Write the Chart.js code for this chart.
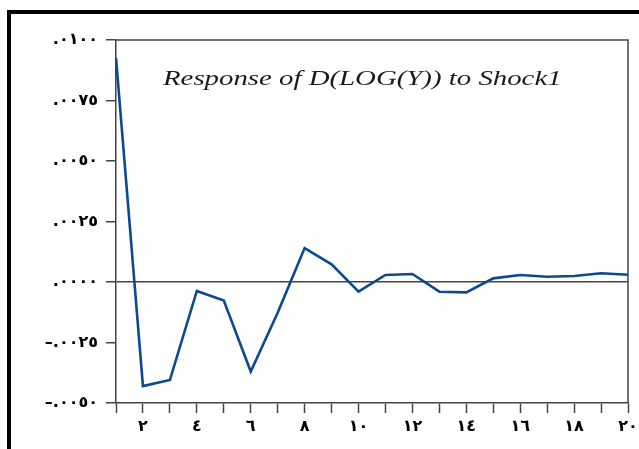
<!DOCTYPE html>
<html>
<head>
<meta charset="utf-8">
<script src="https://cdn.jsdelivr.net/npm/chart.js@4/dist/chart.umd.min.js"></script>
<style>
  html, body { margin: 0; padding: 0; background: #fff; }
  #wrap { position: relative; width: 639px; height: 449px; }
  #frame { position: absolute; left: 7px; top: 10px; right: 0; bottom: 0;
           border-left: 4px solid #000; border-top: 4px solid #000; pointer-events: none; }
  canvas { position: absolute; left: 0; top: 0; }
</style>
</head>
<body>
<div id="wrap">
  <canvas id="c" width="639" height="449"></canvas>
  <div id="frame"></div>
</div>
<script>
// ---- data ----
const periods = [1,2,3,4,5,6,7,8,9,10,11,12,13,14,15,16,17,18,19,20];
const response = [0.00926, -0.0043, -0.00405, -0.00037, -0.00077, -0.0037, -0.00127, 0.0014,
                  0.00073, -0.0004, 0.00029, 0.00033, -0.0004, -0.00043, 0.00015, 0.00029,
                  0.00022, 0.00025, 0.00036, 0.0003];
const titleText = 'Response of D(LOG(Y)) to Shock1';
const arabicDigits = ['٠','١','٢','٣','٤','٥','٦','٧','٨','٩'];

function toArabic(str) {
  return str.replace(/[0-9]/g, d => arabicDigits[+d]);
}
function fmtY(v) {
  let s = Math.abs(v).toFixed(4).replace(/^0/, '');
  if (v < -1e-9) s = '–' + s;
  return toArabic(s);
}

const axisColor = '#444';
const tickFont = { family: 'DejaVu Sans', size: 16, weight: 'bold' };

const framePlugin = {
  id: 'framePlugin',
  afterDraw(chart) {
    const { ctx, chartArea: a } = chart;
    ctx.save();
    ctx.strokeStyle = axisColor;
    ctx.lineWidth = 1.5;
    ctx.beginPath();
    ctx.moveTo(a.left, a.top);
    ctx.lineTo(a.right, a.top);
    ctx.lineTo(a.right, a.bottom);
    ctx.stroke();
    // title inside plot
    ctx.fillStyle = '#1a1a1a';
    ctx.font = 'italic 22px "Liberation Serif"';
    ctx.textBaseline = 'alphabetic';
    ctx.textAlign = 'left';
    ctx.translate(163, 85);
    ctx.scale(1.31, 1);
    ctx.fillText(titleText, 0, 0);
    ctx.restore();
  }
};

new Chart(document.getElementById('c'), {
  type: 'line',
  data: {
    labels: periods,
    datasets: [{
      data: response,
      borderColor: '#0b4a8e',
      borderWidth: 2.6,
      pointRadius: 0,
      tension: 0,
      fill: false
    }]
  },
  options: {
    responsive: false,
    animation: false,
    devicePixelRatio: 1,
    layout: { padding: { left: 0, top: 40, right: 11, bottom: 0 } },
    plugins: { legend: { display: false }, tooltip: { enabled: false }, title: { display: false } },
    scales: {
      x: {
        type: 'category',
        offset: false,
        afterFit(s) { s.height = 46; s.paddingLeft = 0; s.paddingRight = 0; },
        border: { display: true, color: axisColor, width: 1.5 },
        grid: { drawOnChartArea: false, drawTicks: true, tickLength: 10, color: axisColor, tickWidth: 1.5 },
        ticks: {
          autoSkip: false, maxRotation: 0, color: '#000', font: tickFont, padding: 4,
          callback(v, i) { const p = periods[i]; return p % 2 === 0 ? toArabic(String(p)) : ''; }
        }
      },
      y: {
        min: -0.005, max: 0.01,
        afterFit(s) { s.width = 116; s.paddingTop = 0; s.paddingBottom = 0; },
        border: { display: true, color: axisColor, width: 1.5 },
        grid: {
          drawOnChartArea: true, drawTicks: true, tickLength: 10, tickColor: axisColor, tickWidth: 1.5,
          lineWidth: 1.5,
          color(ctx) { return ctx.tick && Math.abs(ctx.tick.value) < 1e-9 ? axisColor : 'rgba(0,0,0,0)'; }
        },
        ticks: {
          stepSize: 0.0025, color: '#000', font: tickFont, padding: 8,
          callback(v) { return fmtY(v); }
        }
      }
    }
  },
  plugins: [framePlugin]
});
</script>
</body>
</html>
